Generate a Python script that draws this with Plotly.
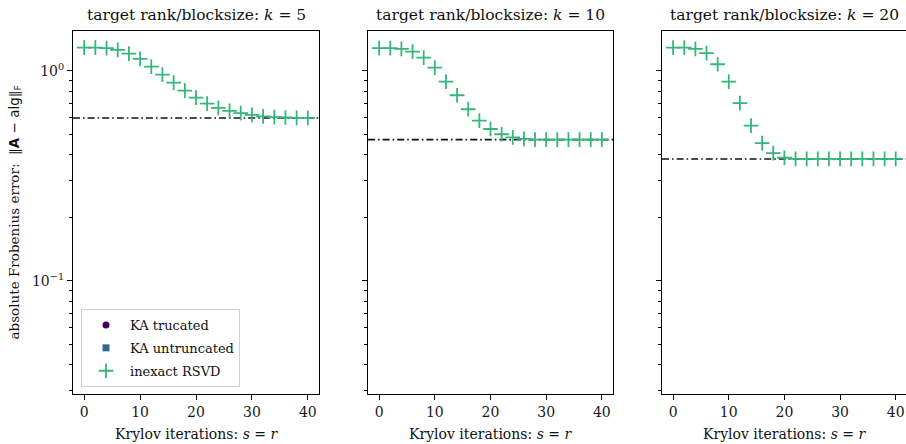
import plotly.graph_objects as go

# ---------------- data ----------------
s_iters = list(range(0, 41, 2))
k_values = [5, 10, 20]

rsvd_k5 = [1.291, 1.291, 1.283, 1.259, 1.209, 1.141, 1.048, 0.960, 0.880, 0.806,
           0.746, 0.699, 0.667, 0.645, 0.629, 0.617, 0.608, 0.602, 0.600, 0.597, 0.597]
rsvd_k10 = [1.283, 1.283, 1.273, 1.236, 1.157, 1.037, 0.889, 0.766, 0.657, 0.580,
            0.529, 0.4995, 0.483, 0.4745, 0.471, 0.471, 0.471, 0.471, 0.471, 0.471, 0.471]
rsvd_k20 = [1.291, 1.291, 1.273, 1.214, 1.076, 0.889, 0.702, 0.549, 0.453, 0.406,
            0.386, 0.381, 0.381, 0.381, 0.381, 0.381, 0.381, 0.381, 0.381, 0.381, 0.381]
best_error = [0.597, 0.471, 0.381]   # dash-dot reference (optimal rank-k error)

series_names = ["KA trucated", "KA untruncated", "inexact RSVD"]
series_colors = ["#440154", "#31688e", "#35b779"]
series_symbols = ["circle", "square", "cross-thin"]

y_major = [0.1, 1]
y_major_text = ["10<sup>−1</sup>", "10<sup>0</sup>"]
y_minor = [0.03, 0.04, 0.05, 0.06, 0.07, 0.08, 0.09,
           0.2, 0.3, 0.4, 0.5, 0.6, 0.7, 0.8, 0.9]
x_ticks = [0, 10, 20, 30, 40]

rsvd_all = [rsvd_k5, rsvd_k10, rsvd_k20]

# ---------------- layout geometry (screen pixels) ----------------
W, H = 906, 444
FONT = "DejaVu Serif"


def fx(px):
    return px / W


def fy(py):
    return 1 - py / H


x_domains = [[fx(73), fx(319)], [fx(368), fx(613)], [fx(662), 1.0]]
x_ranges = [[-2, 42], [-2, 42], [-2, 41.85]]
y_domain = [fy(394), fy(31)]
y_range = [-1.538, 0.19]

fig = go.Figure()

for i, k in enumerate(k_values):
    xa = "x" if i == 0 else f"x{i+1}"
    ya = "y" if i == 0 else f"y{i+1}"
    for j in range(2):
        fig.add_trace(go.Scatter(
            x=[None], y=[None], mode="markers", name=series_names[j],
            marker=dict(symbol=series_symbols[j], color=series_colors[j], size=7),
            xaxis=xa, yaxis=ya, showlegend=(i == 0), legendgroup=series_names[j]))
    fig.add_trace(go.Scatter(
        x=s_iters, y=rsvd_all[i], mode="markers", name=series_names[2],
        marker=dict(symbol="cross-thin", size=10.5,
                    line=dict(color=series_colors[2], width=1.8)),
        xaxis=xa, yaxis=ya, showlegend=(i == 0), legendgroup=series_names[2]))
    fig.add_shape(type="line", xref=f"{xa} domain", yref=ya,
                  x0=0, x1=1, y0=best_error[i], y1=best_error[i],
                  line=dict(color="#111111", width=1.6, dash="7px,3px,1.6px,3px"),
                  layer="below")

    axis_common = dict(showline=True, linecolor="black", linewidth=1,
                       ticks="outside", ticklen=5, tickwidth=1, tickcolor="black",
                       showgrid=False, zeroline=False,
                       tickfont=dict(family=FONT, size=14, color="#1a1a1a"))
    sfx = "" if i == 0 else str(i + 1)
    fig.layout[f"xaxis{sfx}"] = go.layout.XAxis(
        domain=x_domains[i], range=x_ranges[i], anchor=ya,
        tickmode="array", tickvals=x_ticks, mirror=True, **axis_common)
    yax = dict(domain=y_domain, type="log", range=y_range, anchor=xa,
               tickmode="array", tickvals=y_major,
               showticklabels=(i == 0), mirror=(i < 2),
               minor=dict(tickmode="array", tickvals=y_minor, ticks="outside",
                          ticklen=3, tickwidth=1, tickcolor="black", showgrid=False),
               **axis_common)
    if i == 0:
        yax["ticktext"] = y_major_text
    fig.layout[f"yaxis{sfx}"] = go.layout.YAxis(**yax)

    fig.add_annotation(text=f"target rank/blocksize: <i>k</i> = {k}",
                       xref=f"{xa} domain", yref="paper",
                       x=0.5 if i < 2 else (784.5 - 662) / (906 - 662),
                       y=fy(15), showarrow=False, yanchor="middle",
                       font=dict(family=FONT, size=15.5, color="#111"))
    fig.add_annotation(text="Krylov iterations: <i>s</i> = <i>r</i>",
                       xref=f"{xa} domain", yref="paper",
                       x=0.5 if i < 2 else (784.5 - 662) / (906 - 662),
                       y=fy(434), showarrow=False, yanchor="middle",
                       font=dict(family=FONT, size=14, color="#111"))

fig.add_annotation(
    text="absolute Frobenius error:  ‖<span style='font-family:DejaVu Sans'><b>A</b> − alg</span>‖<sub><span style='font-family:DejaVu Sans'>F</span></sub>",
    xref="paper", yref="paper", x=fx(14), y=fy(212.5), textangle=-90,
    showarrow=False, xanchor="center", yanchor="middle",
    font=dict(family=FONT, size=13.5, color="#111"))

fig.update_layout(
    width=W, height=H, margin=dict(l=0, r=0, t=0, b=0),
    paper_bgcolor="white", plot_bgcolor="white",
    legend=dict(x=fx(81), y=fy(387), xanchor="left", yanchor="bottom",
                bgcolor="rgba(255,255,255,0.9)", bordercolor="#d0d0d0", borderwidth=1,
                font=dict(family=FONT, size=13, color="#111"), tracegroupgap=3,
                itemwidth=38),
    showlegend=True,
    hovermode=False,
)

fig.write_html(
    "out.html",
    config={"displayModeBar": False, "staticPlot": True},
    post_script=("document.documentElement.style.margin='0';"
                 "document.body.style.margin='0';"
                 "document.body.style.overflow='hidden';"
                 "document.documentElement.style.overflow='hidden';"),
)
